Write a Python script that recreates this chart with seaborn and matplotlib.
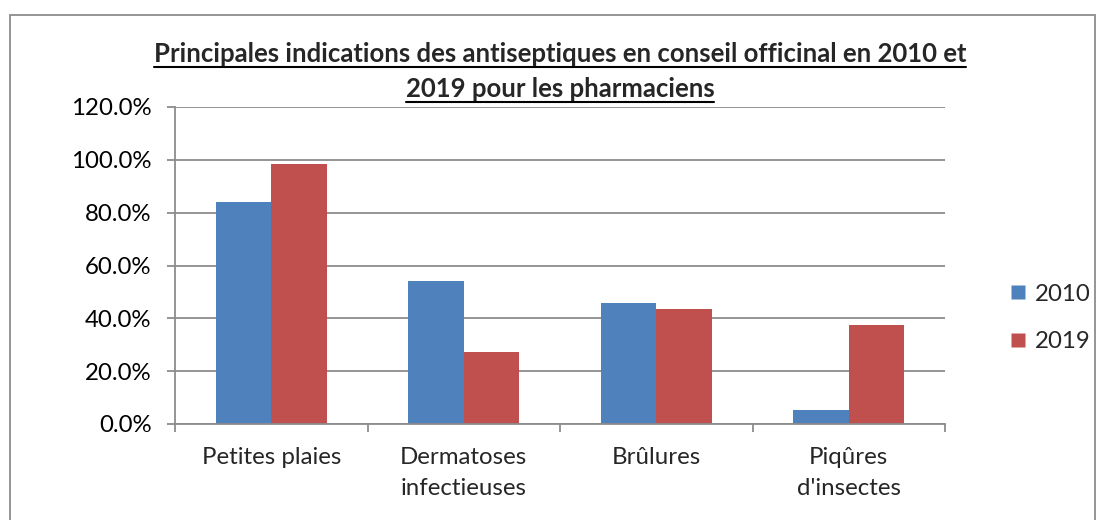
import matplotlib
matplotlib.use("Agg")
import matplotlib.pyplot as plt
from matplotlib.lines import Line2D
from matplotlib.patches import Rectangle
from matplotlib.ticker import FuncFormatter, MultipleLocator
import seaborn as sns
import pandas as pd

categories = ["Petites plaies", "Dermatoses\ninfectieuses", "Brûlures", "Piqûres\nd'insectes"]
years = ["2010", "2019"]
values_2010 = [84.0, 54.0, 45.8, 5.3]
values_2019 = [98.3, 27.4, 43.4, 37.4]
title_lines = ["Principales indications des antiseptiques en conseil officinal en 2010 et",
               "2019 pour les pharmaciens"]

colors = {"2010": "#4F81BD", "2019": "#C0504D"}

df = pd.DataFrame({
    "cat": categories * 2,
    "year": [years[0]] * 4 + [years[1]] * 4,
    "val": values_2010 + values_2019,
})

sns.set_style("white")
plt.rcParams["font.family"] = ["Lato", "DejaVu Sans"]

FS = 17.3

fig = plt.figure(figsize=(11, 5.2), dpi=100)
ax = fig.add_axes([175 / 1100, (520 - 424) / 520, 770 / 1100, 317 / 520])

sns.barplot(data=df, x="cat", y="val", hue="year", order=categories,
            hue_order=years, palette=colors, width=0.577, gap=0,
            saturation=1, ax=ax, legend=False, edgecolor="none")

ax.set_ylim(0, 120)
ax.set_xlim(-0.5, 3.5)
ax.yaxis.set_major_locator(MultipleLocator(20))
ax.yaxis.set_major_formatter(FuncFormatter(lambda v, p: f"{v:.1f}%"))
ax.grid(axis="y", color="#8c8c8c", linewidth=1.3)
ax.set_axisbelow(True)
ax.set_xlabel("")
ax.set_ylabel("")

for side in ["top", "right"]:
    ax.spines[side].set_visible(False)
for side in ["left", "bottom"]:
    ax.spines[side].set_color("#8c8c8c")
    ax.spines[side].set_linewidth(1.3)

ax.tick_params(axis="y", labelsize=FS, length=6, color="#8c8c8c", width=1.3,
               direction="out", left=True, pad=11, labelcolor="black")
ax.set_xticks(range(4))
ax.set_xticklabels(categories, fontsize=FS, linespacing=1.6)
ax.tick_params(axis="x", length=0, pad=16.5)
# category separator ticks on the horizontal axis
ax.set_xticks([-0.5, 0.5, 1.5, 2.5, 3.5], minor=True)
ax.tick_params(axis="x", which="minor", length=6, color="#8c8c8c", width=1.3,
               direction="out", bottom=True)

# legend
handles = [Line2D([], [], marker="s", linestyle="none", markersize=10,
                  markerfacecolor=colors[y], markeredgecolor="none") for y in years]
fig.legend(handles, years, loc="center left", bbox_to_anchor=(1008 / 1100, (520 - 318) / 520),
           frameon=False, fontsize=FS, handletextpad=0.3, labelspacing=1.1,
           handlelength=0.8, borderaxespad=0, borderpad=0)

# chart border
fig.patches.append(Rectangle((10 / 1100, -0.05), 1085 / 1100, (520 - 15) / 520 + 0.05,
                             transform=fig.transFigure, fill=False,
                             edgecolor="#8c8c8c", linewidth=1.3))

# underlined title
title_texts = []
for i, line in enumerate(title_lines):
    t = fig.text(560 / 1100, (520 - (54 + 35 * i)) / 520, line, ha="center", va="center",
                 fontsize=18.5, fontweight="bold",
                 family=["Lato", "DejaVu Sans"])
    title_texts.append(t)
fig.canvas.draw()
renderer = fig.canvas.get_renderer()
inv = fig.transFigure.inverted()
for t in title_texts:
    bb = t.get_window_extent(renderer)
    (x0, y0), (x1, y1) = inv.transform([(bb.x0, bb.y0), (bb.x1, bb.y1)])
    yl = y0 - 1.0 / 520
    fig.add_artist(Line2D([x0, x1], [yl, yl], transform=fig.transFigure,
                          color="black", linewidth=1.5))

fig.savefig("out.png", dpi=100)
